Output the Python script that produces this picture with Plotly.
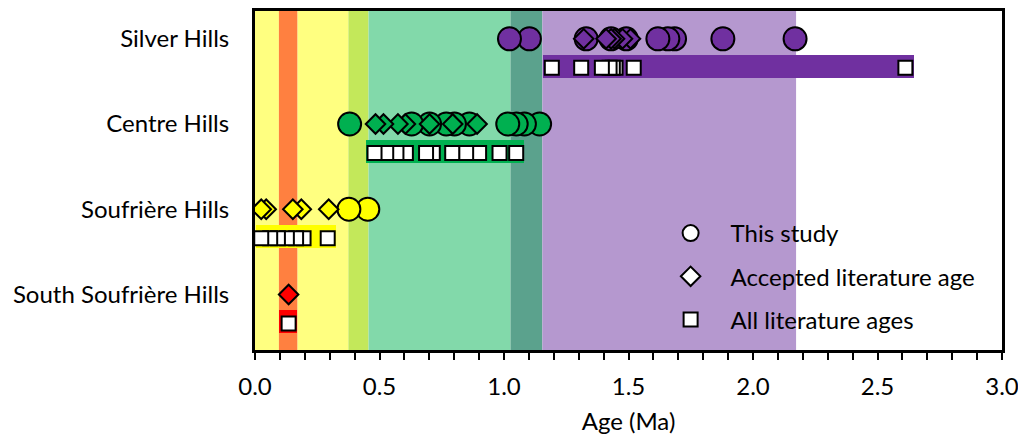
import plotly.graph_objects as go

# ---------------- data ----------------
groups = ["Silver Hills", "Centre Hills", "Soufrière Hills", "South Soufrière Hills"]
group_levels = [4, 3, 2, 1]
group_colors = ["#7030A0", "#00B050", "#FFFF00", "#FF0000"]

# This study (circles)
study_silver = [1.022, 1.102, 1.330, 1.430, 1.491, 1.618, 1.658, 1.685, 1.879, 2.169]
study_centre = [0.380, 0.629, 0.701, 0.768, 0.801, 0.861, 1.015, 1.049, 1.082, 1.143]
study_souf = [0.377, 0.453]
study_south = []

# Accepted literature age (diamonds)
accepted_silver = [1.320, 1.410, 1.430, 1.444, 1.476, 1.508]
accepted_centre = [0.484, 0.516, 0.574, 0.604, 0.701, 0.794, 0.892]
accepted_souf = [0.025, 0.045, 0.152, 0.186, 0.296]
accepted_south = [0.135]

# All literature ages (squares)
all_silver = [1.192, 1.310, 1.393, 1.424, 1.437, 1.448, 1.521, 2.612]
all_centre = [0.480, 0.527, 0.568, 0.606, 0.687, 0.714, 0.792, 0.848, 0.900, 0.982, 1.049]
all_souf = [0.025, 0.061, 0.092, 0.128, 0.165, 0.195, 0.292]
all_south = [0.135]

# literature age range bars
range_start = [1.155, 0.444, 0.005, 0.098]
range_end = [2.645, 1.082, 0.326, 0.170]

# background periods
band_start = [0.0, 0.096, 0.171, 0.375, 0.456, 1.026, 1.154]
band_end = [0.096, 0.171, 0.375, 0.456, 1.026, 1.154, 2.173]
band_colors = ["#FFFF80", "#FF8040", "#FFFF80", "#C3E85A", "#82D9AA", "#5BA28D", "#B598CF"]

x_ticks = [0.0, 0.5, 1.0, 1.5, 2.0, 2.5, 3.0]
x_tick_labels = ["0.0", "0.5", "1.0", "1.5", "2.0", "2.5", "3.0"]

study = [study_silver, study_centre, study_souf, study_south]
accepted = [accepted_silver, accepted_centre, accepted_souf, accepted_south]
alllit = [all_silver, all_centre, all_souf, all_south]

SQ_OFF = 0.34
FONT = "Lato, 'Open Sans', sans-serif"
FS = 24

fig = go.Figure()

# range bars
for i, g in enumerate(groups):
    fig.add_trace(go.Bar(
        orientation="h",
        base=[range_start[i]],
        x=[range_end[i] - range_start[i]],
        y=[group_levels[i] - SQ_OFF + 0.02],
        width=0.27,
        marker=dict(color=group_colors[i], line=dict(width=0)),
        showlegend=False, hoverinfo="skip",
    ))

for i, g in enumerate(groups):
    lvl = group_levels[i]
    c = group_colors[i]
    if study[i]:
        xs = study[i][::-1]
        fig.add_trace(go.Scatter(
            x=xs, y=[lvl] * len(xs), mode="markers",
            marker=dict(symbol="circle", size=23, color=c, line=dict(color="black", width=2)),
            showlegend=False,
        ))
    if accepted[i]:
        xs = accepted[i][::-1]
        fig.add_trace(go.Scatter(
            x=xs, y=[lvl] * len(xs), mode="markers",
            marker=dict(symbol="diamond", size=15, color=c, line=dict(color="black", width=2)),
            showlegend=False,
        ))
    if alllit[i]:
        xs = alllit[i][::-1]
        fig.add_trace(go.Scatter(
            x=xs, y=[lvl - SQ_OFF] * len(xs), mode="markers",
            marker=dict(symbol="square", size=14, color="white", line=dict(color="black", width=2)),
            showlegend=False,
        ))

# legend entries
for name, sym, sz, grp in [("This study", "circle", 23, "a"),
                           ("Accepted literature age", "diamond", 15, "b"),
                           ("All literature ages", "square", 14, "c")]:
    fig.add_trace(go.Scatter(
        x=[None], y=[None], mode="markers", name=name, legendgroup=grp,
        marker=dict(symbol=sym, size=sz, color="white", line=dict(color="black", width=2)),
    ))

shapes = []
for s, e, col in zip(band_start, band_end, band_colors):
    shapes.append(dict(type="rect", xref="x", yref="paper", x0=s, x1=e, y0=0, y1=1,
                       fillcolor=col, line=dict(width=0), layer="below"))

fig.update_layout(
    width=1026, height=441,
    margin=dict(l=247, r=32, t=0, b=99),
    paper_bgcolor="white", plot_bgcolor="white",
    barmode="overlay", bargap=0,
    shapes=shapes,
    font=dict(family=FONT, size=FS, color="black"),
    legend=dict(x=0.5296, y=0.41, xanchor="left", yanchor="top",
                bgcolor="rgba(0,0,0,0)", font=dict(size=FS),
                traceorder="grouped", tracegroupgap=9,
                itemsizing="trace", itemwidth=70),
    showlegend=True,
)

fig.update_xaxes(
    range=[0, 3], tickvals=x_ticks, ticktext=x_tick_labels,
    showgrid=False, zeroline=False,
    showline=True, linewidth=3, linecolor="black", mirror=True,
    ticks="outside", ticklen=7, tickwidth=2, tickcolor="black",
    minor=dict(dtick=0.1, ticks="outside", ticklen=7, tickwidth=2, tickcolor="black", showgrid=False),
    tickfont=dict(size=FS), ticklabelstandoff=6,
    title=dict(text="Age (Ma)", font=dict(size=FS), standoff=15),
)
fig.update_yaxes(
    range=[0.349, 4.326], tickvals=group_levels, ticktext=groups,
    showgrid=False, zeroline=False,
    showline=True, linewidth=3, linecolor="black", mirror=True,
    ticks="", tickfont=dict(size=FS), ticklabelstandoff=18,
)

fig.write_html("out.html")
